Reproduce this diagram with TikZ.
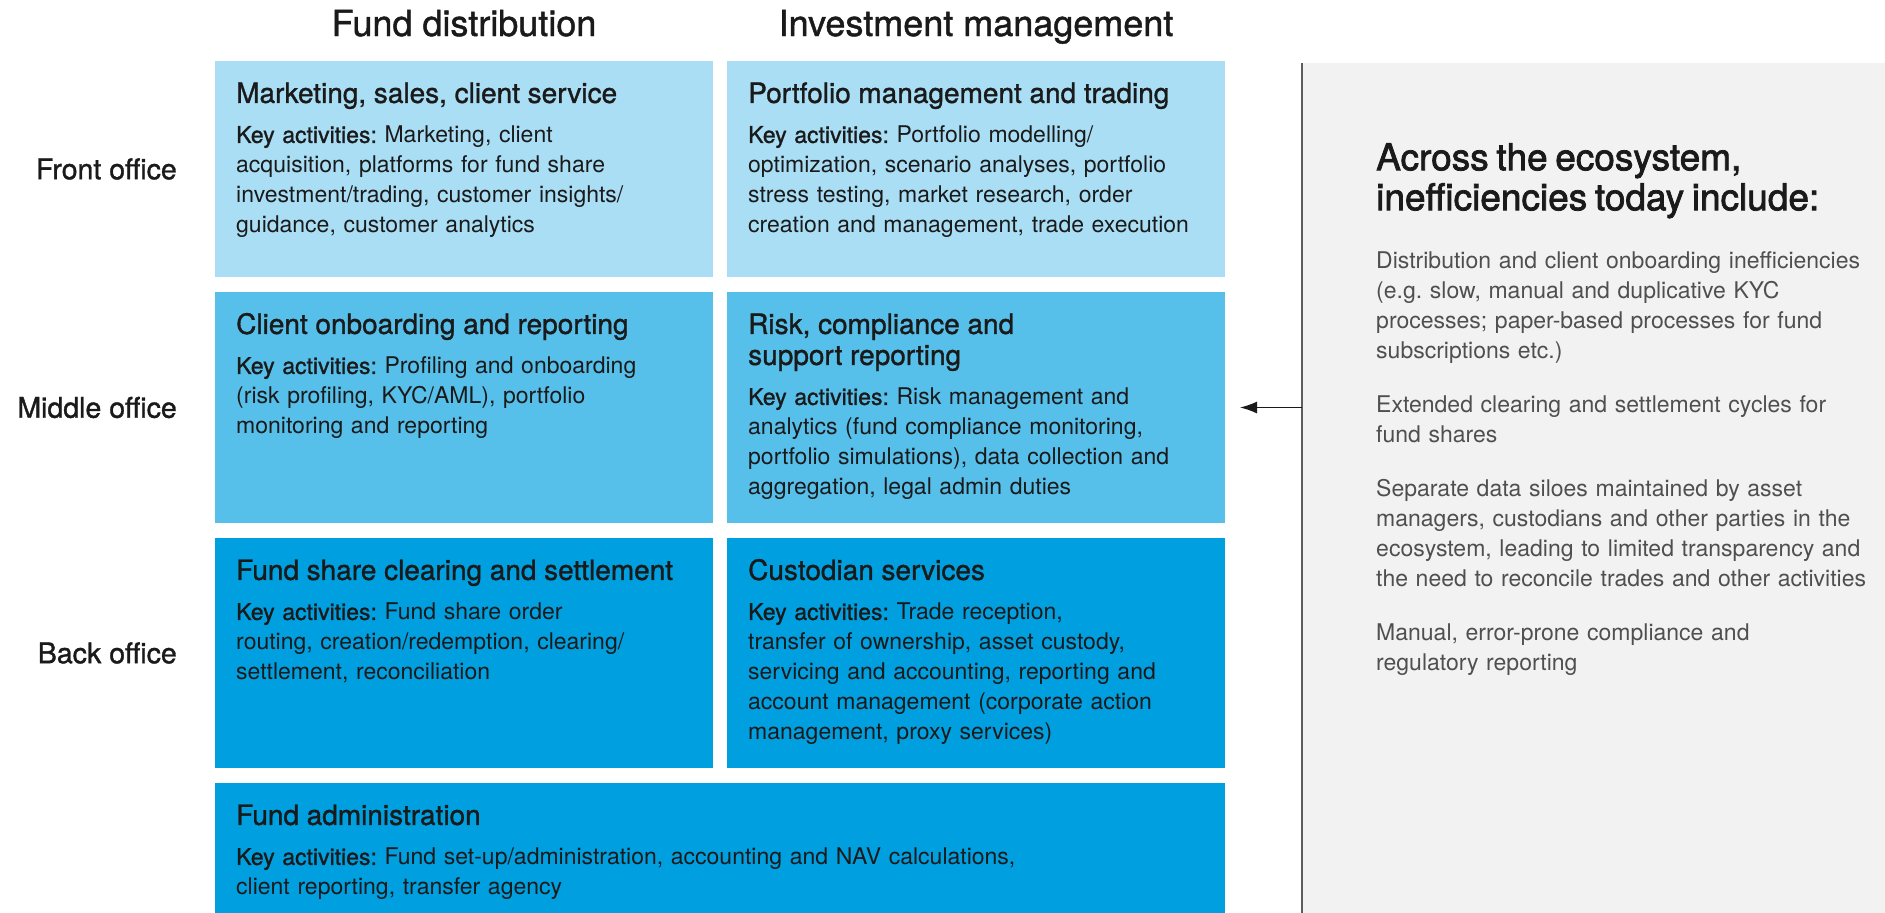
\documentclass[tikz,border=0pt]{standalone}
\usepackage{fontspec}
\setmainfont{TeX Gyre Heros}
\newfontfamily\medfont{TeX Gyre Heros}[FakeBold=1.2]
\newfontfamily\headfont{TeX Gyre Heros}[FakeBold=2]
\usepackage{tikz}
\usetikzlibrary{arrows.meta,positioning}
\definecolor{ink}{HTML}{1A1A1A}
\definecolor{note}{HTML}{4F4F4F}
\definecolor{front}{HTML}{A9DEF5}
\definecolor{middle}{HTML}{56BFEA}
\definecolor{back}{HTML}{009FE0}
\definecolor{panelgray}{HTML}{F2F2F2}
\definecolor{rule}{HTML}{5E5E5E}
\setlength{\parindent}{0pt}
\frenchspacing
\newcommand{\celltext}[2]{{\medfont\fontsize{28}{31}\selectfont\strut #1\par}\vspace{10pt}{\medfont Key activities:} #2}

\begin{document}
\begin{tikzpicture}[x=1pt,y=-1pt,
 cell/.style={fill=#1,minimum width=498pt,inner sep=0pt,outer sep=0pt,anchor=north west},
 celltxt/.style={anchor=north west,inner sep=0pt,text width=470pt,align=left,
 font=\fontsize{23}{30}\selectfont,text=ink},
 colhead/.style={anchor=base,font=\medfont\fontsize{36}{40}\selectfont,text=ink},
 rowlab/.style={font=\medfont\fontsize{28.5}{30}\selectfont,text=ink,inner sep=0pt},
 arr/.style={-{Latex[length=17pt,width=12pt]},line width=1.3pt,draw=ink},
 node distance=15pt]
 \useasboundingbox (0,0) rectangle (1885,913);
 \node[cell=front,minimum height=216pt] (mkt) at (215,61) {};
 \node[cell=front,minimum height=216pt,right=14pt of mkt] (pfm) {};
 \node[cell=middle,minimum height=231pt,below=of mkt] (onb) {};
 \node[cell=middle,minimum height=231pt,right=14pt of onb] (risk) {};
 \node[cell=back,minimum height=230pt,below=of onb] (clr) {};
 \node[cell=back,minimum height=230pt,right=14pt of clr] (cust) {};
 \node[cell=back,minimum height=130pt,minimum width=1010pt,
 below=of clr.south west,anchor=north west] (adm) {};
 \node[fill=panelgray,minimum width=583pt,minimum height=850pt,inner sep=0pt,
 anchor=north west] (panel) at (1302,63) {};
 \draw[rule,line width=2pt] (panel.north west) -- (panel.south west);

 \node[colhead] (hdist) at ([yshift=25pt]mkt.north) {Fund distribution};
 \node[colhead] (hinv) at ([yshift=25pt]pfm.north) {Investment management};
 \node[rowlab,left=38pt of mkt.west] (front) {Front office};
 \node[rowlab,left=38pt of onb.west] (middle) {Middle office};
 \node[rowlab,left=38pt of clr.west] (back) {Back office};

 \node[celltxt] (mkttxt) at ([shift={(21pt,-20pt)}]mkt.north west)
 {\celltext{Marketing, sales, client service}{Marketing, client\\
 acquisition, platforms for fund share\\ investment/trading, customer insights/\\
 guidance, customer analytics}};
 \node[celltxt] (pfmtxt) at ([shift={(21pt,-20pt)}]pfm.north west)
 {\celltext{Portfolio management and trading}{Portfolio modelling/\\
 optimization, scenario analyses, portfolio\\ stress testing, market research, order\\
 creation and management, trade execution}};
 \node[celltxt] (onbtxt) at ([shift={(21pt,-20pt)}]onb.north west)
 {\celltext{Client onboarding and reporting}{Profiling and onboarding\\
 (risk profiling, KYC/AML), portfolio\\ monitoring and reporting}};
 \node[celltxt] (risktxt) at ([shift={(21pt,-20pt)}]risk.north west)
 {\celltext{Risk, compliance and\\ support reporting}{Risk management and\\
 analytics (fund compliance monitoring,\\ portfolio simulations), data collection and\\
 aggregation, legal admin duties}};
 \node[celltxt] (clrtxt) at ([shift={(21pt,-20pt)}]clr.north west)
 {\celltext{Fund share clearing and settlement}{Fund share order\\
 routing, creation/redemption, clearing/\\ settlement, reconciliation}};
 \node[celltxt] (custtxt) at ([shift={(21pt,-20pt)}]cust.north west)
 {\celltext{Custodian services}{Trade reception,\\ transfer of ownership, asset custody,\\
 servicing and accounting, reporting and\\ account management (corporate action\\
 management, proxy services)}};
 \node[celltxt,text width=960pt] (admtxt) at ([shift={(21pt,-20pt)}]adm.north west)
 {\celltext{Fund administration}{Fund set-up/administration, accounting and NAV calculations,\\
 client reporting, transfer agency}};

 \node[celltxt,text width=505pt] (ineff) at (1376,142)
 {{\headfont\fontsize{37}{40}\selectfont\strut Across the ecosystem,\\
 inefficiencies today include:\par}\vspace{28pt}
 {\color{note}Distribution and client onboarding inefficiencies\\
 (e.g. slow, manual and duplicative KYC\\ processes; paper-based processes for fund\\
 subscriptions etc.)\par\vspace{24pt}
 Extended clearing and settlement cycles for\\ fund shares\par\vspace{24pt}
 Separate data siloes maintained by asset\\ managers, custodians and other parties in the\\
 ecosystem, leading to limited transparency and\\ the need to reconcile trades and other activities\par\vspace{24pt}
 Manual, error-prone compliance and\\ regulatory reporting\par}};

 \draw[arr] (panel.west |- risk.east) -- ([xshift=15pt]risk.east);
\end{tikzpicture}
\end{document}
